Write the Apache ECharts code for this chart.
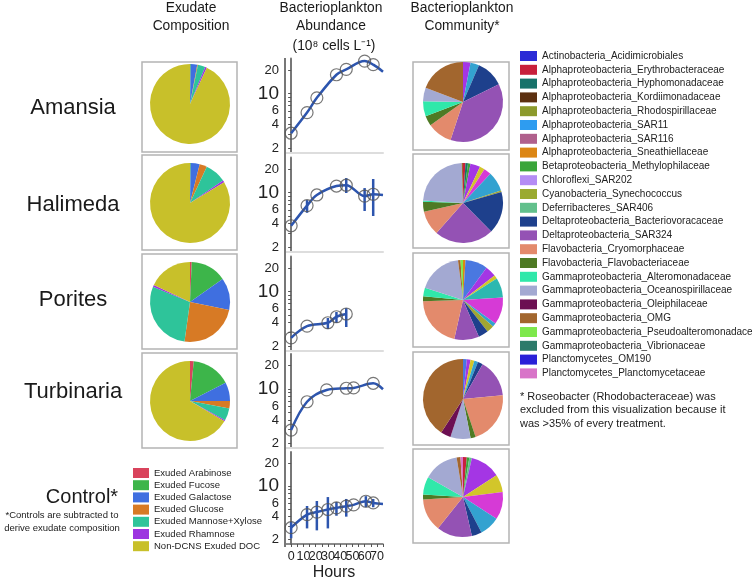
<!DOCTYPE html>
<html><head><meta charset="utf-8">
<script src="https://cdn.jsdelivr.net/npm/echarts@6/dist/echarts.min.js"></script>
<style>html,body{margin:0;padding:0;background:#fff}#c{width:752px;height:582px}</style>
</head><body><div id="c"></div>
<script>
// ---------- Exudate composition ----------
const exudateNames = ['Exuded Arabinose','Exuded Fucose','Exuded Galactose','Exuded Glucose','Exuded Mannose+Xylose','Exuded Rhamnose','Non-DCNS Exuded DOC'];
const exudateColors = ['#d9435c','#3db54a','#3f6fe0','#d77a25','#2ec49a','#9d35e0','#c8c02a'];
const amansiaExudate    = [0, 0.3, 2.6, 0.3, 3.0, 0.7, 93.1];
const halimedaExudate   = [0, 0.3, 3.6, 3.0, 8.6, 0.8, 83.7];
const poritesExudate    = [0.7, 14.5, 13, 24, 29, 0.8, 18];
const turbinariaExudate = [1.5, 16, 7.5, 3, 5, 0.5, 66.5];

// ---------- Bacterioplankton abundance (10^8 cells/L) ----------
const hourLabels = [0,10,20,30,40,50,60,70];
const hourTicks = [0,5,10,15,20,25,30,35,40,45,50,55,60,65,70,75];
const yLabels = [2,4,6,10,20];
const yTicks = [2,3,4,5,6,7,8,9,10,20];
const tailHour = 75;

const amansiaHours = [0,13,21,37,45,60,67];
const amansiaMean  = [3.1,5.7,8.8,17.4,20.4,26,23.4];
const amansiaLo    = [null,null,null,null,null,null,null];
const amansiaHi    = [null,null,null,null,null,null,null];
const amansiaTail  = 19;

const halimedaHours = [0,13,21,37,45,60,67];
const halimedaMean  = [3.75,6.8,9.3,12.1,12.4,9.0,9.5];
const halimedaLo    = [null,5.5,null,null,9.85,5.8,5.0];
const halimedaHi    = [null,8.0,null,null,15.3,11.4,14.9];
const halimedaTail  = 9.3;

const poritesHours = [0,13,30,37,45];
const poritesMean  = [2.55,3.6,3.98,4.75,5.15];
const poritesLo    = [null,null,3.3,3.95,3.51];
const poritesHi    = [null,null,4.58,5.46,6.13];
const poritesTail  = null;

const turbinariaHours = [0,13,29,45,51,67];
const turbinariaMean  = [2.97,6.85,9.7,10.2,10.3,11.8];
const turbinariaLo    = [null,null,null,null,null,null];
const turbinariaHi    = [null,null,null,null,null,null];
const turbinariaTail  = 9.9;

const controlHours = [0,13,21,30,37,45,51,61,67];
const controlMean  = [2.86,4.24,4.58,4.95,5.2,5.47,5.69,6.35,6.03];
const controlLo    = [2.08,2.8,2.64,2.8,4.1,3.99,null,5.3,5.3];
const controlHi    = [3.44,5.5,6.4,7.2,6.2,6.8,null,7.4,6.8];
const controlTail  = 5.86;

// ---------- Bacterioplankton community ----------
const communityLegend = ['Actinobacteria_Acidimicrobiales','Alphaproteobacteria_Erythrobacteraceae','Alphaproteobacteria_Hyphomonadaceae','Alphaproteobacteria_Kordiimonadaceae','Alphaproteobacteria_Rhodospirillaceae','Alphaproteobacteria_SAR11','Alphaproteobacteria_SAR116','Alphaproteobacteria_Sneathiellaceae','Betaproteobacteria_Methylophilaceae','Chloroflexi_SAR202','Cyanobacteria_Synechococcus','Deferribacteres_SAR406','Deltaproteobacteria_Bacteriovoracaceae','Deltaproteobacteria_SAR324','Flavobacteria_Cryomorphaceae','Flavobacteria_Flavobacteriaceae','Gammaproteobacteria_Alteromonadaceae','Gammaproteobacteria_Oceanospirillaceae','Gammaproteobacteria_Oleiphilaceae','Gammaproteobacteria_OMG','Gammaproteobacteria_Pseudoalteromonadacea','Gammaproteobacteria_Vibrionaceae','Planctomycetes_OM190','Planctomycetes_Planctomycetaceae'];
// pie slice order (legend groups plus unlisted groups u1..u7)
const communityCategories = ['Actinobacteria_Acidimicrobiales','Alphaproteobacteria_Erythrobacteraceae','Alphaproteobacteria_Hyphomonadaceae','Alphaproteobacteria_Kordiimonadaceae','Alphaproteobacteria_Rhodospirillaceae','Alphaproteobacteria_SAR11','Alphaproteobacteria_SAR116','Alphaproteobacteria_Sneathiellaceae','Betaproteobacteria_Methylophilaceae','Chloroflexi_SAR202','Cyanobacteria_Synechococcus','Deferribacteres_SAR406','u1','u2','u3','u4','u5','u6','u7','Deltaproteobacteria_Bacteriovoracaceae','Deltaproteobacteria_SAR324','Flavobacteria_Cryomorphaceae','Flavobacteria_Flavobacteriaceae','Gammaproteobacteria_Alteromonadaceae','Gammaproteobacteria_Oceanospirillaceae','Gammaproteobacteria_Oleiphilaceae','Gammaproteobacteria_OMG','Gammaproteobacteria_Pseudoalteromonadacea','Gammaproteobacteria_Vibrionaceae','Planctomycetes_OM190','Planctomycetes_Planctomycetaceae'];
const communityColors = ['#2b2bd6','#c8203c','#17726a','#5c3010','#8c9a2c','#2e9cf0','#b0608c','#dc8614','#3aa53a','#b48cf4','#9aaa30','#62c08c','#4a78e0','#a436e4','#d2c62a','#2cb8b0','#d63ad6','#33a2d0','#a0a632','#1e408c','#9452b4','#e38a6c','#4e7a24','#30e8aa','#a3a9d2','#6c0f52','#a2662e','#7ee84c','#2c7a6a','#2a20d8','#d874c8'];
//                           Ac Er Hy Ko Rh 11 116 Sn Be Ch Cy De u1 u2 u3 u4 u5 u6 u7 Ba S324 Cr Fl Al Oc Ol OMG Ps Vi OM Pl
const amansiaCommunity    = [0, 0, 0, 0, 0, 0, 0, 0, 0, 0, 0, 0, 0, 3, 0, 0, 0, 3.5, 0, 11, 37, 10, 4, 6, 5.5, 0, 19, 0, 0, 0, 0];
const halimedaCommunity   = [0, 1, 1, 0, 0, 0, 0, 0, 1, 0, 0, 0, 0, 4, 2, 0, 3, 8, 0.6, 17, 24, 10, 4, 0.5, 23.5, 0, 0.5, 0, 0, 0, 0];
const poritesCommunity    = [0, 0, 0, 0, 0, 0, 0, 1, 0, 0, 0, 0, 9, 4.5, 1.5, 8, 11, 1.5, 3, 4, 10, 21, 2, 3.5, 18, 0, 1, 1, 0, 0, 0];
const turbinariaCommunity = [0, 0, 0, 0, 0, 0, 0, 0, 0, 0, 0, 0, 1.5, 1.5, 1.5, 0, 0, 1.5, 0, 2, 15, 21, 2, 0, 8, 4, 40, 0, 0, 0, 0];
const controlCommunity    = [0, 1.5, 0, 0, 0, 0, 0, 0, 1, 0, 0, 1, 0, 12, 7, 0, 11, 8, 0, 4, 14, 13, 2, 7, 14, 0, 1.5, 0, 0, 0, 1];

// ---------- build ----------
const FONT = '"Liberation Sans", Arial, Helvetica, sans-serif';
const LINE = '#2d55ae';
const chart = echarts.init(document.getElementById('c'), null, {renderer: 'canvas'});

const panels = [
  {hours: amansiaHours, mean: amansiaMean, lo: amansiaLo, hi: amansiaHi, tail: amansiaTail, top: 58.6, h: 94},
  {hours: halimedaHours, mean: halimedaMean, lo: halimedaLo, hi: halimedaHi, tail: halimedaTail, top: 157.6, h: 94},
  {hours: poritesHours, mean: poritesMean, lo: poritesLo, hi: poritesHi, tail: poritesTail, top: 256.6, h: 94},
  {hours: turbinariaHours, mean: turbinariaMean, lo: turbinariaLo, hi: turbinariaHi, tail: turbinariaTail, top: 354, h: 94},
  {hours: controlHours, mean: controlMean, lo: controlLo, hi: controlHi, tail: controlTail, top: 452, h: 95}
];

const grid = [], xAxis = [], yAxis = [], series = [];
panels.forEach((p, i) => {
  const last = i === 4;
  grid.push({left: 285, width: 98, top: p.top, height: p.h});
  xAxis.push({
    type: 'value', gridIndex: i, min: -5, max: 75, position: 'bottom',
    axisLine: {show: true, onZero: false, lineStyle: {color: last ? '#666' : '#dddddd', width: last ? 1.5 : 2}},
    axisTick: {show: last, customValues: hourTicks, length: 3, lineStyle: {color: '#555'}},
    axisLabel: {show: last, customValues: hourLabels.filter((v, k) => k % 2 === 0), fontSize: 12.5, color: '#222',
      margin: 6, fontFamily: FONT, hideOverlap: false},
    splitLine: {show: false},
    name: last ? 'Hours' : '', nameLocation: 'middle', nameGap: 21,
    nameTextStyle: {fontSize: 16, color: '#222', fontFamily: FONT}
  });
  yAxis.push({
    type: 'log', logBase: 10, gridIndex: i, min: 1.75, max: 28,
    axisLine: {show: true, lineStyle: {color: '#777', width: 2}},
    axisTick: {show: true, customValues: yTicks, length: 3, lineStyle: {color: '#555'}},
    axisLabel: {customValues: yLabels, margin: 6, fontFamily: FONT, hideOverlap: false,
      formatter: v => (Math.abs(v - 10) < 1e-6 ? '{b|10}' : '{s|' + Math.round(v) + '}'),
      rich: {b: {fontSize: 19, color: '#222', fontFamily: FONT}, s: {fontSize: 13, color: '#222', fontFamily: FONT}}},
    splitLine: {show: false}
  });
  const lineData = p.hours.map((h, k) => [h, p.mean[k]]);
  if (p.tail !== null) lineData.push([tailHour, p.tail]);
  series.push({type: 'line', xAxisIndex: i, yAxisIndex: i, data: lineData, smooth: 0.35, symbol: 'none',
    lineStyle: {color: LINE, width: 2.5}, z: 2, silent: true, animation: false});
  const errData = [];
  p.hours.forEach((h, k) => { if (p.lo[k] !== null) errData.push([h, p.lo[k], p.hi[k]]); });
  series.push({type: 'custom', xAxisIndex: i, yAxisIndex: i, data: errData, z: 3, silent: true, animation: false,
    renderItem: (params, api) => {
      const a = api.coord([api.value(0), api.value(1)]);
      const b = api.coord([api.value(0), api.value(2)]);
      return {type: 'line', shape: {x1: a[0], y1: a[1], x2: b[0], y2: b[1]}, style: {stroke: LINE, lineWidth: 2.5}};
    }});
  series.push({type: 'scatter', xAxisIndex: i, yAxisIndex: i, data: p.hours.map((h, k) => [h, p.mean[k]]),
    symbol: 'circle', symbolSize: 12, z: 4, silent: true, animation: false,
    itemStyle: {color: 'rgba(255,255,255,0)', borderColor: '#555', borderWidth: 1.2}});
});
// second label row for the shared hours axis (alternate labels, same scale)
xAxis.push({
  type: 'value', gridIndex: 4, min: -5, max: 75, position: 'bottom', offset: 0,
  axisLine: {show: false}, axisTick: {show: false}, splitLine: {show: false},
  axisLabel: {customValues: hourLabels.filter((v, k) => k % 2 === 1), fontSize: 12.5, color: '#222',
    margin: 6, fontFamily: FONT, hideOverlap: false}
});

// exudate pies
const exRows = [amansiaExudate, halimedaExudate, poritesExudate, turbinariaExudate];
const exCY = [104, 203, 302, 401];
exRows.forEach((vals, r) => {
  series.push({type: 'pie', center: [190, exCY[r]], radius: 40, startAngle: 90, clockwise: true,
    silent: true, animation: false, label: {show: false}, labelLine: {show: false},
    data: exudateNames.map((n, k) => ({name: n, value: vals[k], itemStyle: {color: exudateColors[k]}}))});
});
// community pies
const coRows = [amansiaCommunity, halimedaCommunity, poritesCommunity, turbinariaCommunity, controlCommunity];
const coCY = [102, 203, 300, 399, 497];
coRows.forEach((vals, r) => {
  series.push({type: 'pie', center: [463, coCY[r]], radius: 40, startAngle: 90, clockwise: true,
    silent: true, animation: false, label: {show: false}, labelLine: {show: false},
    data: communityCategories.map((n, k) => ({name: n, value: vals[k], itemStyle: {color: communityColors[k]}}))});
});

// boxes & text
const graphic = [];
const exBoxes = [[62,152],[155,250],[254,349],[353,448]];
exBoxes.forEach(b => graphic.push({type: 'rect', shape: {x: 142, y: b[0], width: 95, height: b[1] - b[0]},
  style: {fill: 'none', stroke: '#b4b4b4', lineWidth: 1.5}, z: 0}));
const coBoxes = [[62,150],[154,248],[253,347],[352,445],[449,543]];
coBoxes.forEach(b => graphic.push({type: 'rect', shape: {x: 413, y: b[0], width: 96, height: b[1] - b[0]},
  style: {fill: 'none', stroke: '#b4b4b4', lineWidth: 1.5}, z: 0}));
graphic.push({type: 'line', shape: {x1: 285, y1: 58, x2: 285, y2: 547}, style: {stroke: '#777', lineWidth: 2}, z: 1});

function txt(x, y, s, size, align) {
  graphic.push({type: 'text', x: x, y: y, style: {text: s, fontSize: size, fontFamily: FONT, fill: '#1a1a1a',
    align: align || 'center', verticalAlign: 'middle'}, z: 5});
}
txt(191, 8, 'Exudate', 13.8); txt(191, 26, 'Composition', 13.8);
txt(331, 8, 'Bacterioplankton', 13.8); txt(331, 26, 'Abundance', 13.8); txt(334, 46, '(10⁸ cells L⁻¹)', 13.8);
txt(462, 8, 'Bacterioplankton', 13.8); txt(462, 26, 'Community*', 13.8);
txt(73, 108, 'Amansia', 22); txt(73, 205, 'Halimeda', 22); txt(73, 300, 'Porites', 22);
txt(73, 392, 'Turbinaria', 22); txt(82, 497, 'Control*', 20);
txt(62, 515, '*Controls are subtracted to', 9.5); txt(62, 528, 'derive exudate composition', 9.5);
txt(520, 397, '* Roseobacter (Rhodobacteraceae) was', 11, 'left');
txt(520, 410, 'excluded from this visualization because it', 11, 'left');
txt(520, 424, 'was >35% of every treatment.', 11, 'left');

chart.setOption({
  animation: false,
  backgroundColor: '#fff',
  textStyle: {fontFamily: FONT},
  grid, xAxis, yAxis, series, graphic,
  legend: [
    {data: exudateNames, orient: 'vertical', left: 133, top: 468, padding: 0, itemWidth: 16, itemHeight: 10, itemGap: 2.2,
      icon: 'rect', selectedMode: false, textStyle: {fontSize: 9.5, color: '#222', fontFamily: FONT, lineHeight: 10}},
    {data: communityLegend, orient: 'vertical', left: 520, top: 51, padding: 0, itemWidth: 17, itemHeight: 10, itemGap: 3.8,
      icon: 'rect', selectedMode: false, textStyle: {fontSize: 10, color: '#222', fontFamily: FONT, lineHeight: 10}}
  ]
});
</script></body></html>
